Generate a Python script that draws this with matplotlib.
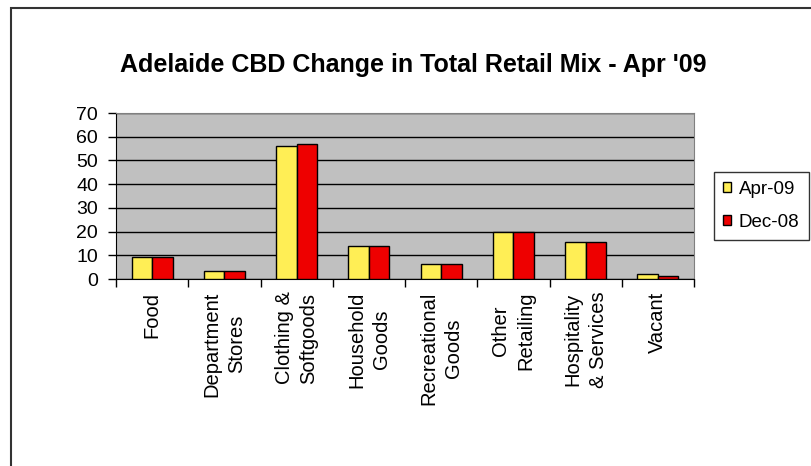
import numpy as np
import matplotlib
matplotlib.use("Agg")
import matplotlib.pyplot as plt
from matplotlib.patches import Rectangle

plt.rcParams['font.family'] = ['Liberation Sans', 'DejaVu Sans']

# ---------- DATA ----------
categories = ["Food", "Department\nStores", "Clothing &\nSoftgoods", "Household\nGoods",
              "Recreational\nGoods", "Other\nRetailing", "Hospitality\n& Services", "Vacant"]
apr09 = [9.4, 3.4, 56.1, 13.9, 6.2, 19.7, 15.7, 2.0]
dec08 = [9.4, 3.4, 56.8, 13.9, 6.2, 19.7, 15.7, 1.4]
series_names = ["Apr-09", "Dec-08"]

# ---------- PLOT ----------
W, H = 811, 466
fig = plt.figure(figsize=(W / 100, H / 100), dpi=100)

# outer chart border (left/top visible only)
fig.patches.append(Rectangle((11 / W, -0.1), 1.2, 1.1 - 8 / H, transform=fig.transFigure,
                             fill=False, edgecolor='#333333', linewidth=1.5))

left, right, top, bottom = 116, 694, 113, 279
ax = fig.add_axes([left / W, 1 - bottom / H, (right - left) / W, (bottom - top) / H])
ax.set_facecolor('#C0C0C0')

x = np.arange(len(categories))
bw = 0.285
ax.bar(x - bw / 2, apr09, bw, color='#FFEE55', edgecolor='black', linewidth=1, label=series_names[0], zorder=3)
ax.bar(x + bw / 2, dec08, bw, color='#EE0000', edgecolor='black', linewidth=1, label=series_names[1], zorder=3)

ax.set_xlim(-0.5, len(categories) - 0.5)
ax.set_ylim(0, 70)
ax.set_yticks(range(0, 71, 10))
ax.yaxis.grid(True, color='black', linewidth=1, zorder=1)
ax.set_axisbelow(True)

ax.set_xticks(x)
ax.set_xticklabels(categories, rotation=90, fontsize=14.5, ha='center', va='top',
                   multialignment='center', linespacing=1.4)
ax.tick_params(axis='x', which='major', length=0, pad=9)
ax.set_xticks(np.arange(-0.5, len(categories)), minor=True)
ax.tick_params(axis='x', which='minor', length=6, width=1, color='black')
ax.tick_params(axis='y', length=6, width=1, labelsize=14, pad=7, color='black')

for s in ['top', 'right']:
    ax.spines[s].set_color('#808080')
for s in ['left', 'bottom']:
    ax.spines[s].set_color('black')

fig.text(413 / W, 1 - 65 / H, "Adelaide CBD Change in Total Retail Mix - Apr '09",
         fontsize=18, fontweight='bold', ha='center', va='center')

leg = ax.legend(loc='center left', bbox_to_anchor=(714 / W, 1 - 206 / H), bbox_transform=fig.transFigure,
                fontsize=13.5, frameon=True, fancybox=False, edgecolor='black', handlelength=0.42,
                handleheight=0.42, handletextpad=0.4, borderpad=0.5, labelspacing=0.85, borderaxespad=0)
leg.get_frame().set_linewidth(1)

fig.savefig("out.png", dpi=100)
